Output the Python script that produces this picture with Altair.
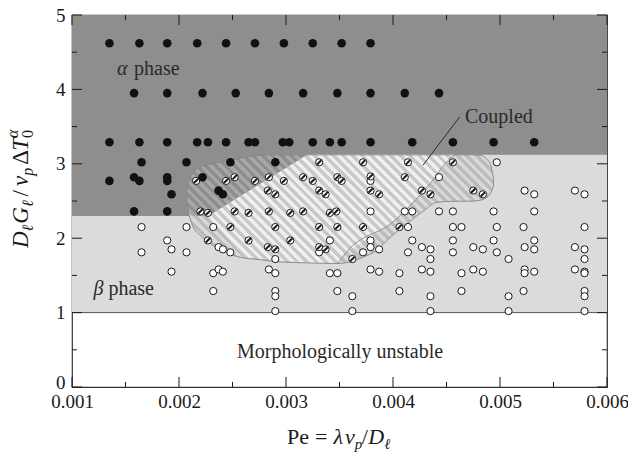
import math
import altair as alt
import pandas as pd

W, H = 535, 372
XD = [0.001, 0.006]
YD = [0, 5]
SERIF = "Liberation Serif"
INK = "#1a1a1a"

# ---------------- data ----------------
alpha_x = [0.00135, 0.00163, 0.00189, 0.00217, 0.00244, 0.00271, 0.00298, 0.00325, 0.00352, 0.00379,
           0.00158, 0.00189, 0.00222, 0.00253, 0.00284, 0.00316, 0.00348, 0.00379, 0.00411, 0.00443,
           0.00135, 0.00163, 0.00189, 0.00217, 0.00227, 0.00244, 0.00265, 0.00271, 0.00297, 0.00303,
           0.00325, 0.00341, 0.00352, 0.00379, 0.00418, 0.00456, 0.00494, 0.00532,
           0.00165, 0.00207, 0.00248, 0.00290,
           0.00135, 0.00158, 0.00163, 0.00189, 0.00189, 0.00193, 0.00222, 0.00237, 0.00241,
           0.00158, 0.00189]
alpha_y = [4.62, 4.62, 4.62, 4.62, 4.62, 4.62, 4.62, 4.62, 4.62, 4.62,
           3.95, 3.95, 3.95, 3.95, 3.95, 3.95, 3.95, 3.95, 3.95, 3.95,
           3.29, 3.29, 3.29, 3.29, 3.29, 3.29, 3.29, 3.29, 3.29, 3.29,
           3.29, 3.29, 3.29, 3.29, 3.29, 3.29, 3.29, 3.29,
           3.02, 3.02, 3.02, 3.02,
           2.77, 2.82, 2.77, 2.82, 2.77, 2.59, 2.82, 2.64, 2.59,
           2.36, 2.36]

coupled_x = [0.00216, 0.00244, 0.00252, 0.00271, 0.00284, 0.00298, 0.00283, 0.00290, 0.00316, 0.00325,
             0.00331, 0.00331, 0.00337, 0.00348, 0.00352,
             0.00372, 0.00414, 0.00456, 0.00379, 0.00411, 0.00379, 0.00387, 0.00427, 0.00435, 0.00475, 0.00484,
             0.00220, 0.00227, 0.00252, 0.00265, 0.00284, 0.00304, 0.00316, 0.00341, 0.00347,
             0.00248, 0.00290, 0.00331, 0.00348, 0.00372, 0.00406,
             0.00227, 0.00265, 0.00304,
             0.00283, 0.00290, 0.00331, 0.00337,
             0.00362]
coupled_y = [2.77, 2.77, 2.82, 2.77, 2.82, 2.77, 2.64, 2.59, 2.82, 2.77,
             3.02, 2.64, 2.59, 2.82, 2.77,
             3.02, 3.02, 3.02, 2.83, 2.82, 2.64, 2.59, 2.64, 2.59, 2.64, 2.59,
             2.36, 2.34, 2.36, 2.34, 2.36, 2.34, 2.36, 2.34, 2.36,
             2.15, 2.15, 2.15, 2.15, 2.15, 2.15,
             1.97, 1.97, 1.97,
             1.88, 1.85, 1.88, 1.85,
             1.72]

beta_x = [0.00497,
          0.00379, 0.00443,
          0.00523, 0.00532, 0.00570, 0.00579,
          0.00379, 0.00411, 0.00418, 0.00443, 0.00456, 0.00494, 0.00532,
          0.00165, 0.00207, 0.00232, 0.00414, 0.00456, 0.00464, 0.00497, 0.00522, 0.00579,
          0.00189, 0.00341, 0.00379, 0.00418, 0.00456, 0.00494, 0.00532,
          0.00193, 0.00237, 0.00241, 0.00379, 0.00387, 0.00427, 0.00435, 0.00475, 0.00484,
          0.00523, 0.00532, 0.00570, 0.00579,
          0.00165, 0.00207, 0.00248, 0.00331, 0.00372, 0.00414, 0.00456, 0.00497,
          0.00290, 0.00435, 0.00508, 0.00579,
          0.00193, 0.00232, 0.00237, 0.00241, 0.00284, 0.00290, 0.00341, 0.00348, 0.00379, 0.00387,
          0.00406, 0.00427, 0.00435, 0.00464, 0.00475, 0.00484, 0.00523, 0.00523, 0.00532, 0.00570,
          0.00579, 0.00579,
          0.00232, 0.00290, 0.00290, 0.00348, 0.00362, 0.00406, 0.00435, 0.00464, 0.00508, 0.00522,
          0.00579, 0.00579,
          0.00290, 0.00362, 0.00435, 0.00508, 0.00579]
beta_y = [3.02,
          2.77, 2.82,
          2.64, 2.59, 2.64, 2.59,
          2.36, 2.36, 2.36, 2.36, 2.36, 2.36, 2.36,
          2.15, 2.15, 2.15, 2.15, 2.15, 2.15, 2.15, 2.15, 2.15,
          1.97, 1.97, 1.97, 1.97, 1.97, 1.97, 1.97,
          1.85, 1.88, 1.85, 1.88, 1.85, 1.88, 1.85, 1.88, 1.85,
          1.88, 1.85, 1.88, 1.85,
          1.81, 1.81, 1.81, 1.81, 1.81, 1.81, 1.81, 1.81,
          1.72, 1.72, 1.72, 1.72,
          1.55, 1.53, 1.58, 1.55, 1.58, 1.53, 1.53, 1.53, 1.58, 1.55,
          1.53, 1.58, 1.55, 1.53, 1.58, 1.55, 1.58, 1.53, 1.55, 1.58,
          1.55, 1.53,
          1.29, 1.29, 1.22, 1.29, 1.22, 1.29, 1.22, 1.29, 1.22, 1.29,
          1.29, 1.22,
          1.02, 1.02, 1.02, 1.02, 1.02]

# phase-region boundaries
beta_region = {"x0": [0.001], "x1": [0.006], "y0": [1.0], "y1": [5.0]}
boundary_x = [0.001, 0.002271, 0.003193, 0.006]
boundary_y = [2.30, 2.30, 3.12, 3.12]
boundary_top = [5, 5, 5, 5]

# coupled (hatched) region outline
blob_x = [0.002070, 0.002084, 0.002131, 0.002196, 0.002290, 0.002355, 0.002449, 0.002570, 0.002757,
          0.002916, 0.003131, 0.003477, 0.003598, 0.003720, 0.003850, 0.003972, 0.004093, 0.004280,
          0.004411, 0.004580, 0.004720, 0.004813, 0.004879, 0.004916, 0.004939]
blob_top = [2.604, 2.738, 2.872, 2.953, 2.993, 3.013, 3.040, 3.074, 3.114,
            3.12, 3.12, 3.12, 3.12, 3.12, 3.12, 3.12, 3.12, 3.12,
            3.12, 3.12, 3.12, 3.114, 3.060, 2.966, 2.805]
blob_bottom = [2.604, 2.403, 2.161, 2.040, 1.933, 1.866, 1.799, 1.745, 1.711,
               1.682, 1.671, 1.660, 1.682, 1.745, 1.839, 2.013, 2.152, 2.362,
               2.483, 2.497, 2.497, 2.510, 2.550, 2.617, 2.698]

# part of the coupled region lying in the alpha field
dark_x = [0.002070, 0.002084, 0.002131, 0.002196, 0.002290, 0.002355, 0.002449, 0.002570, 0.002757,
          0.002916, 0.003131, 0.003193]
dark_top = [2.604, 2.738, 2.872, 2.953, 2.993, 3.013, 3.040, 3.074, 3.114, 3.12, 3.12, 3.12]
dark_bottom = [2.604, 2.403, 2.30, 2.30, 2.317, 2.375, 2.458, 2.566, 2.732, 2.873, 3.065, 3.12]

# lighter band inside the coupled region
band_x = [0.002271, 0.002617, 0.003193, 0.003486, 0.003567, 0.004000, 0.004346, 0.004533, 0.004580]
band_top = [2.30, 2.628, 3.12, 3.12, 3.12, 3.12, 3.12, 3.12, 3.12]
band_bottom = [2.30, 1.748, 1.674, 1.664, 1.816, 2.219, 2.734, 3.070, 3.12]

inner_x = [0.003486, 0.003567, 0.004000, 0.004346, 0.004533, 0.004580]
inner_y = [1.664, 1.816, 2.219, 2.734, 3.070, 3.12]

leader_x = [0.004280]
leader_y = [2.98]
leader_x2 = [0.004623]
leader_y2 = [3.63]

x_major = [0.001, 0.002, 0.003, 0.004, 0.005, 0.006]
x_minor = [0.0015, 0.0025, 0.0035, 0.0045, 0.0055]
y_major = [0, 1, 2, 3, 4, 5]
y_minor = [0.5, 1.5, 2.5, 3.5, 4.5]

# ---------------- encodings ----------------
xscale = alt.Scale(domain=XD, nice=False, zero=False)
yscale = alt.Scale(domain=YD, nice=False, zero=False)
xaxis = alt.Axis(values=x_major, format=".3f", title=None, ticks=False, tickSize=0, domain=False,
                 grid=False, labelFont=SERIF, labelFontSize=19, labelColor=INK, labelPadding=5,
                 labelFlush=False)
yaxis = alt.Axis(values=y_major, format="d", title=None, ticks=False, tickSize=0, domain=False,
                 grid=False, labelFont=SERIF, labelFontSize=19, labelColor=INK, labelPadding=7,
                 labelOffset={"condition": {"test": "datum.value === 0", "value": -5}, "value": 0})


def X(f):
    return alt.X(f, type="quantitative", scale=xscale, axis=xaxis)


def Y(f):
    return alt.Y(f, type="quantitative", scale=yscale, axis=yaxis)


def sx(v):
    return (v - XD[0]) / (XD[1] - XD[0]) * W


def sy(v):
    return H - (v - YD[0]) / (YD[1] - YD[0]) * H


HALF = 4.75  # half of the horizontal hatch period, px


def stripes(xs, tops, bots, base, stripe):
    """Hard-stop gradient giving 45-degree hatching aligned across marks."""
    x0, x1 = sx(min(xs)), sx(max(xs))
    ytop, ybot = sy(max(tops)), sy(min(bots))
    wb, hb = x1 - x0, ybot - ytop
    r = hb / wb
    s = (1 + r) / (1 + r * r)
    umin, umax = x0 - ybot, x1 - ytop
    stops = []
    for k in range(math.floor(umin / HALF), math.ceil(umax / HALF)):
        a = max(0.0, (k * HALF - umin) / (umax - umin))
        b = min(1.0, ((k + 1) * HALF - umin) / (umax - umin))
        c = base if k % 2 == 0 else stripe
        stops += [{"offset": round(a, 5), "color": c}, {"offset": round(b, 5), "color": c}]
    return {"gradient": "linear", "x1": 0, "y1": 1, "x2": round(s, 5), "y2": round(1 - s * r, 5),
            "stops": stops}


layers = []

# light grey beta region
layers.append(alt.Chart(pd.DataFrame(beta_region)).mark_rect(color="#dbdbdb").encode(
    x=X("x0"), x2="x1", y=Y("y0"), y2="y1"))

# dark alpha region
layers.append(alt.Chart(pd.DataFrame({"x": boundary_x, "y": boundary_y, "t": boundary_top}))
              .mark_area(color="#8e8e8e", opacity=1).encode(x=X("x"), y=Y("y"), y2="t"))

# hatched coupled region, three shades (solid under-fill + hatch)
blob_df = pd.DataFrame({"x": blob_x, "a": blob_top, "b": blob_bottom})
band_df = pd.DataFrame({"x": band_x, "a": band_top, "b": band_bottom})
dark_df = pd.DataFrame({"x": dark_x, "a": dark_top, "b": dark_bottom})

layers.append(alt.Chart(blob_df)
              .mark_area(fill=stripes(blob_x, blob_top, blob_bottom, "#d9d9d9", "#bcbcbc"),
                         interpolate="monotone", opacity=1)
              .encode(x=X("x"), y=Y("a"), y2="b"))
layers.append(alt.Chart(band_df).mark_area(color="#eeeeee", opacity=1)
              .encode(x=X("x"), y=Y("a"), y2="b"))
layers.append(alt.Chart(band_df)
              .mark_area(fill=stripes(band_x, band_top, band_bottom, "#efefef", "#c9c9c9"), opacity=1)
              .encode(x=X("x"), y=Y("a"), y2="b"))
layers.append(alt.Chart(dark_df).mark_area(color="#8e8e8e", interpolate="monotone", opacity=1)
              .encode(x=X("x"), y=Y("a"), y2="b"))
layers.append(alt.Chart(dark_df)
              .mark_area(fill=stripes(dark_x, dark_top, dark_bottom, "#8e8e8e", "#a7a7a7"),
                         interpolate="monotone", opacity=1)
              .encode(x=X("x"), y=Y("a"), y2="b"))

# outline of the coupled region and inner boundary
layers.append(alt.Chart(blob_df)
              .mark_area(fillOpacity=0, stroke="#858585", strokeWidth=0.9, interpolate="monotone")
              .encode(x=X("x"), y=Y("a"), y2="b"))
layers.append(alt.Chart(pd.DataFrame({"x": inner_x, "y": inner_y}))
              .mark_line(color="#858585", strokeWidth=0.9, interpolate="monotone")
              .encode(x=X("x"), y=Y("y")))

# line at y = 1
layers.append(alt.Chart(pd.DataFrame({"y": [1.0]})).mark_rule(color="#555555", strokeWidth=1)
              .encode(y=Y("y")))


# inward ticks on all four sides
def xticks(vals, ln):
    d = pd.DataFrame({"v": vals})
    return [alt.Chart(d).mark_rule(color=INK, strokeWidth=1).encode(x=X("v"), y=alt.value(H), y2=alt.value(H - ln)),
            alt.Chart(d).mark_rule(color=INK, strokeWidth=1).encode(x=X("v"), y=alt.value(0), y2=alt.value(ln))]


def yticks(vals, ln):
    d = pd.DataFrame({"v": vals})
    return [alt.Chart(d).mark_rule(color=INK, strokeWidth=1).encode(y=Y("v"), x=alt.value(0), x2=alt.value(ln)),
            alt.Chart(d).mark_rule(color=INK, strokeWidth=1).encode(y=Y("v"), x=alt.value(W), x2=alt.value(W - ln))]


layers += xticks(x_major, 10) + xticks(x_minor, 5) + yticks(y_major, 10) + yticks(y_minor, 5)

# points
layers.append(alt.Chart(pd.DataFrame({"x": beta_x, "y": beta_y}))
              .mark_point(shape="circle", filled=True, fill="white", stroke=INK, strokeWidth=1, size=52, opacity=1)
              .encode(x=X("x"), y=Y("y")))
cdf = pd.DataFrame({"x": coupled_x, "y": coupled_y})
layers.append(alt.Chart(cdf)
              .mark_point(shape="circle", filled=True, fill="white", stroke=INK, strokeWidth=1, size=52, opacity=1)
              .encode(x=X("x"), y=Y("y")))
band_shape = "M -0.80 0.40 L 0.40 -0.80 L 0.80 -0.40 L -0.40 0.80 Z"
layers.append(alt.Chart(cdf)
              .mark_point(shape=band_shape, filled=True, color=INK, size=52, opacity=1, strokeWidth=0)
              .encode(x=X("x"), y=Y("y")))
layers.append(alt.Chart(pd.DataFrame({"x": alpha_x, "y": alpha_y}))
              .mark_point(shape="circle", filled=True, color="#111111", size=74, opacity=1)
              .encode(x=X("x"), y=Y("y")))

# annotations (data positions)
lab_text = ["α", "phase", "β", "phase", "Morphologically unstable", "Coupled"]
lab_x = [0.001421, 0.001580, 0.00120, 0.001340, 0.003505, 0.004673]
lab_y = [4.28, 4.28, 1.32, 1.32, 0.47, 3.63]
lab_italic = [True, False, True, False, False, False]
lab_align = ["left", "left", "left", "left", "center", "left"]
for t, lx, ly, it, al in zip(lab_text, lab_x, lab_y, lab_italic, lab_align):
    kw = dict(text=t, font=SERIF, fontSize=20, align=al, baseline="middle", color="#2a2a2a")
    if it:
        kw["fontStyle"] = "italic"
    layers.append(alt.Chart(pd.DataFrame({"x": [lx], "y": [ly]})).mark_text(**kw).encode(x=X("x"), y=Y("y")))

layers.append(alt.Chart(pd.DataFrame({"x": leader_x, "y": leader_y, "x2": leader_x2, "y2": leader_y2}))
              .mark_rule(color="#2a2a2a", strokeWidth=1).encode(x=X("x"), y=Y("y"), x2="x2", y2="y2"))

# axis titles built from pieces (math typesetting)
one = pd.DataFrame({"a": [0]})


def piece(s, px, py, size, italic=False, angle=0):
    kw = dict(text=s, font=SERIF, fontSize=size, align="left", baseline="alphabetic", color=INK)
    if italic:
        kw["fontStyle"] = "italic"
    if angle:
        kw["angle"] = angle
    return alt.Chart(one).mark_text(**kw).encode(x=alt.value(px - 72), y=alt.value(py - 15))


# x title: Pe = λ v_p / D_ℓ
xt = [("Pe", False, 0, 22, 22.0), ("=", False, 0, 22, 12.4), ("λ", True, 0, 22, 11.5), ("v", True, 0, 22, 9.8),
      ("p", True, 5, 15, 7.0), ("/", False, 0, 22, 6.6), ("D", True, 0, 22, 16.0), ("ℓ", True, 5, 15, 6.0)]
gaps = [0, 6, 6, 0, 0, 0, 0, 0]
cx = 287
for (s, it, dy, sz, wd), g in zip(xt, gaps):
    cx += g
    layers.append(piece(s, cx, 444 + dy, sz, it))
    cx += wd

# y title: D_ℓ G_ℓ / v_p ΔT_0^α  (rotated, reading upward)
yt = [("D", True, 0, 23, 16.6, 0), ("ℓ", True, 5, 16, 6.7, 1), ("G", True, 0, 23, 16.6, 0),
      ("ℓ", True, 5, 16, 6.7, 4), ("/", False, 0, 23, 6.4, 4), ("v", True, 0, 23, 10.2, 0),
      ("p", True, 5, 16, 8.0, 3), ("Δ", False, 0, 23, 14.1, 0), ("T", True, 0, 23, 12.8, 0),
      ("0", False, 5, 16, 8.0, 0)]
cy = 248
base_x = 28
for s, it, dx, sz, wd, g in yt:
    layers.append(piece(s, base_x + dx, cy, sz, it, 270))
    if s == "0":
        layers.append(piece("α", base_x - 10, cy, 16, True, 270))
    cy -= wd + g

chart = alt.layer(*layers).properties(
    width=W, height=H,
    autosize=alt.AutoSizeParams(type="none"),
    padding={"left": 72, "top": 15, "right": 21, "bottom": 66},
    background="white",
).configure_view(stroke="#333333", strokeWidth=1.2)

chart.save("out.html", embed_options={"renderer": "svg", "actions": False})
